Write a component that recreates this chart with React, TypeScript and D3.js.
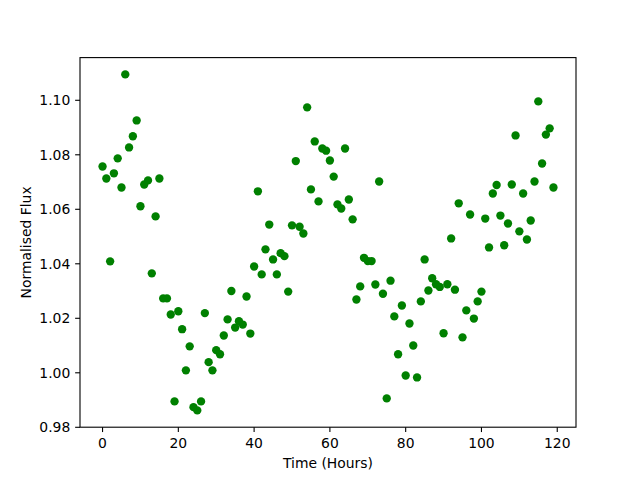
import React from "react";
import * as d3 from "d3";

const hours: number[] = Array.from({ length: 120 }, (_, i) => i);
const flux: number[] = [
  1.0757, 1.0713, 1.0409, 1.0732, 1.0787, 1.068, 1.1095, 1.0827, 1.0868, 1.0926,
  1.0611, 1.0691, 1.0706, 1.0365, 1.0574, 1.0713, 1.0273, 1.0273, 1.0214, 0.9895,
  1.0226, 1.016, 1.0009, 1.0097, 0.9874, 0.9862, 0.9895, 1.0219, 1.0039, 1.0009,
  1.0083, 1.0068, 1.0137, 1.0196, 1.03, 1.0166, 1.0189, 1.0177, 1.028, 1.0144,
  1.039, 1.0666, 1.0361, 1.0453, 1.0544, 1.0416, 1.0361, 1.0439, 1.0428, 1.0298,
  1.0541, 1.0777, 1.0536, 1.0511, 1.0974, 1.0673, 1.0849, 1.0629, 1.0823, 1.0815,
  1.0779, 1.072, 1.0618, 1.0603, 1.0823, 1.0636, 1.0563, 1.0269, 1.0317, 1.0422,
  1.041, 1.041, 1.0324, 1.0702, 1.029, 0.9906, 1.0338, 1.0207, 1.0068, 1.0247,
  0.999, 1.0181, 1.01, 0.9983, 1.0262, 1.0416, 1.0302, 1.0347, 1.0325, 1.0315,
  1.0145, 1.0325, 1.0493, 1.0305, 1.0622, 1.013, 1.0229, 1.0581, 1.0199, 1.0262,
  1.0298, 1.0566, 1.046, 1.0658, 1.0689, 1.0577, 1.0468, 1.0548, 1.0691, 1.0871,
  1.0519, 1.0658, 1.0489, 1.0559, 1.0702, 1.0996, 1.0768, 1.0874, 1.0897, 1.068,
];
const xTicks: number[] = [0, 20, 40, 60, 80, 100, 120];
const yTicks: number[] = [0.98, 1.0, 1.02, 1.04, 1.06, 1.08, 1.1];
const xLabel = "Time (Hours)";
const yLabel = "Normalised Flux";

export default function App() {
  const W = 640, H = 480;
  const left = 80, top = 57.6, width = 496, height = 369.6;
  const xMin = d3.min(hours)!, xMax = d3.max(hours)!;
  const yMin = d3.min(flux)!, yMax = d3.max(flux)!;
  const xm = (xMax - xMin) * 0.05, ym = (yMax - yMin) * 0.05;
  const x = d3.scaleLinear().domain([xMin - xm, xMax + xm]).range([left, left + width]);
  const y = d3.scaleLinear().domain([yMin - ym, yMax + ym]).range([top + height, top]);
  const tick = 4.86;
  const font = "DejaVu Sans, sans-serif";
  return (
    <svg width={W} height={H} style={{ position: "absolute", left: 0, top: 0, background: "#fff" }}
      fontFamily={font}>
      <rect x={0} y={0} width={W} height={H} fill="#fff" />
      {hours.map((h, i) => (
        <circle key={i} cx={x(h)} cy={y(flux[i])} r={4.17} fill="#008000" />
      ))}
      <rect x={left} y={top} width={width} height={height} fill="none" stroke="#000" strokeWidth={1.1} />
      {xTicks.map((t) => (
        <g key={"x" + t}>
          <line x1={x(t)} x2={x(t)} y1={top + height} y2={top + height + tick} stroke="#000" strokeWidth={1.1} />
          <text x={x(t)} y={top + height + 20.5} textAnchor="middle" fontSize={13.9} fill="#000">{t}</text>
        </g>
      ))}
      {yTicks.map((t) => (
        <g key={"y" + t}>
          <line x1={left - tick} x2={left} y1={y(t)} y2={y(t)} stroke="#000" strokeWidth={1.1} />
          <text x={left - 9.7} y={y(t) + 5} textAnchor="end" fontSize={13.9} fill="#000">{t.toFixed(2)}</text>
        </g>
      ))}
      <text x={left + width / 2} y={468} textAnchor="middle" fontSize={13.9} fill="#000">{xLabel}</text>
      <text transform={`translate(31,${top + height / 2}) rotate(-90)`} textAnchor="middle" fontSize={13.9} fill="#000">{yLabel}</text>
    </svg>
  );
}
